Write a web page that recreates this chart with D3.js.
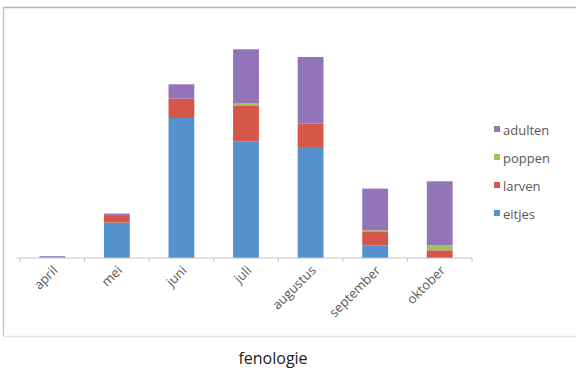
<!DOCTYPE html>
<html>
<head>
<meta charset="utf-8">
<script src="https://cdn.jsdelivr.net/npm/d3@7"></script>
<style>
  body { margin: 0; background: #fff; }
  svg { display: block; }
</style>
</head>
<body>
<svg id="chart" width="576" height="373"></svg>
<script>
// Months and counts per life stage
const months = ["april", "mei", "juni", "juli", "augustus", "september", "oktober"];
const eitjes  = [0.6, 35.4, 140, 116.7, 111, 12.7, 0];
const larven  = [0.4, 6.6, 19.4, 36, 23.4, 14, 7.7];
const poppen  = [0, 0, 0, 2.3, 0, 1, 5];
const adulten = [0.8, 2.4, 14.3, 53.7, 66.6, 41.7, 64];

const seriesNames = ["eitjes", "larven", "poppen", "adulten"];
const seriesColors = ["#5592CD", "#D5574A", "#9CC45A", "#9474B8"];

const rows = months.map((m, i) => ({
  month: m,
  eitjes: eitjes[i],
  larven: larven[i],
  poppen: poppen[i],
  adulten: adulten[i]
}));

const svg = d3.select("#chart");
const font = "'Open Sans', 'DejaVu Sans', sans-serif";

// Outer chart frame
svg.append("line").attr("x1", 3).attr("x2", 576).attr("y1", 7.5).attr("y2", 7.5)
  .attr("stroke", "#b4b4b4").attr("stroke-width", 1.5);
svg.append("line").attr("x1", 3.5).attr("x2", 3.5).attr("y1", 7).attr("y2", 337)
  .attr("stroke", "#c8c8c8").attr("stroke-width", 1.5);
svg.append("line").attr("x1", 3).attr("x2", 576).attr("y1", 336.5).attr("y2", 336.5)
  .attr("stroke", "#e4e4e4").attr("stroke-width", 1.5);

const x = d3.scaleBand().domain(months).range([20, 472]).paddingInner(0.6).paddingOuter(0.3);
const y = d3.scaleLinear().domain([0, 250]).range([258, 8]);

const stack = d3.stack().keys(seriesNames);
const stacked = stack(rows);
const color = d3.scaleOrdinal().domain(seriesNames).range(seriesColors);

svg.append("g")
  .selectAll("g")
  .data(stacked)
  .join("g")
  .attr("fill", d => color(d.key))
  .selectAll("rect")
  .data(d => d)
  .join("rect")
  .attr("x", d => x(d.data.month))
  .attr("width", x.bandwidth())
  .attr("y", d => y(d[1]))
  .attr("height", d => Math.max(0, y(d[0]) - y(d[1])));

// Category axis with ticks between the bars
const axisG = svg.append("g").attr("transform", `translate(0,${y(0)})`);
axisG.append("line").attr("x1", 17).attr("x2", 472).attr("y1", 0).attr("y2", 0)
  .attr("stroke", "#c4c4c4").attr("stroke-width", 1.2);
const bounds = d3.range(months.length + 1).map(i => 20 + i * (452 / months.length));
axisG.selectAll(".tk").data(bounds).join("line")
  .attr("x1", d => d).attr("x2", d => d).attr("y1", 0).attr("y2", 4)
  .attr("stroke", "#c4c4c4");

axisG.selectAll(".lbl").data(months).join("text")
  .attr("transform", d => `translate(${x(d) + x.bandwidth() / 2 + 3},${10}) rotate(-45)`)
  .attr("text-anchor", "end")
  .attr("dy", "0.35em")
  .attr("font-family", font)
  .attr("font-size", 13)
  .attr("fill", "#595959")
  .text(d => d);

// Legend, top series first
const legendKeys = seriesNames.slice().reverse();
const legend = svg.append("g");
const lg = legend.selectAll("g").data(legendKeys).join("g")
  .attr("transform", (d, i) => `translate(494,${130 + i * 28})`);
lg.append("rect").attr("x", 0).attr("y", -4).attr("width", 6).attr("height", 6)
  .attr("fill", d => color(d));
lg.append("text").attr("x", 9).attr("y", 0).attr("dy", "0.35em")
  .attr("font-family", font).attr("font-size", 13).attr("fill", "#595959")
  .text(d => d);

// Caption
svg.append("text").attr("x", 273).attr("y", 364)
  .attr("text-anchor", "middle")
  .attr("font-family", font).attr("font-size", 16).attr("fill", "#222")
  .text("fenologie");
</script>
</body>
</html>
